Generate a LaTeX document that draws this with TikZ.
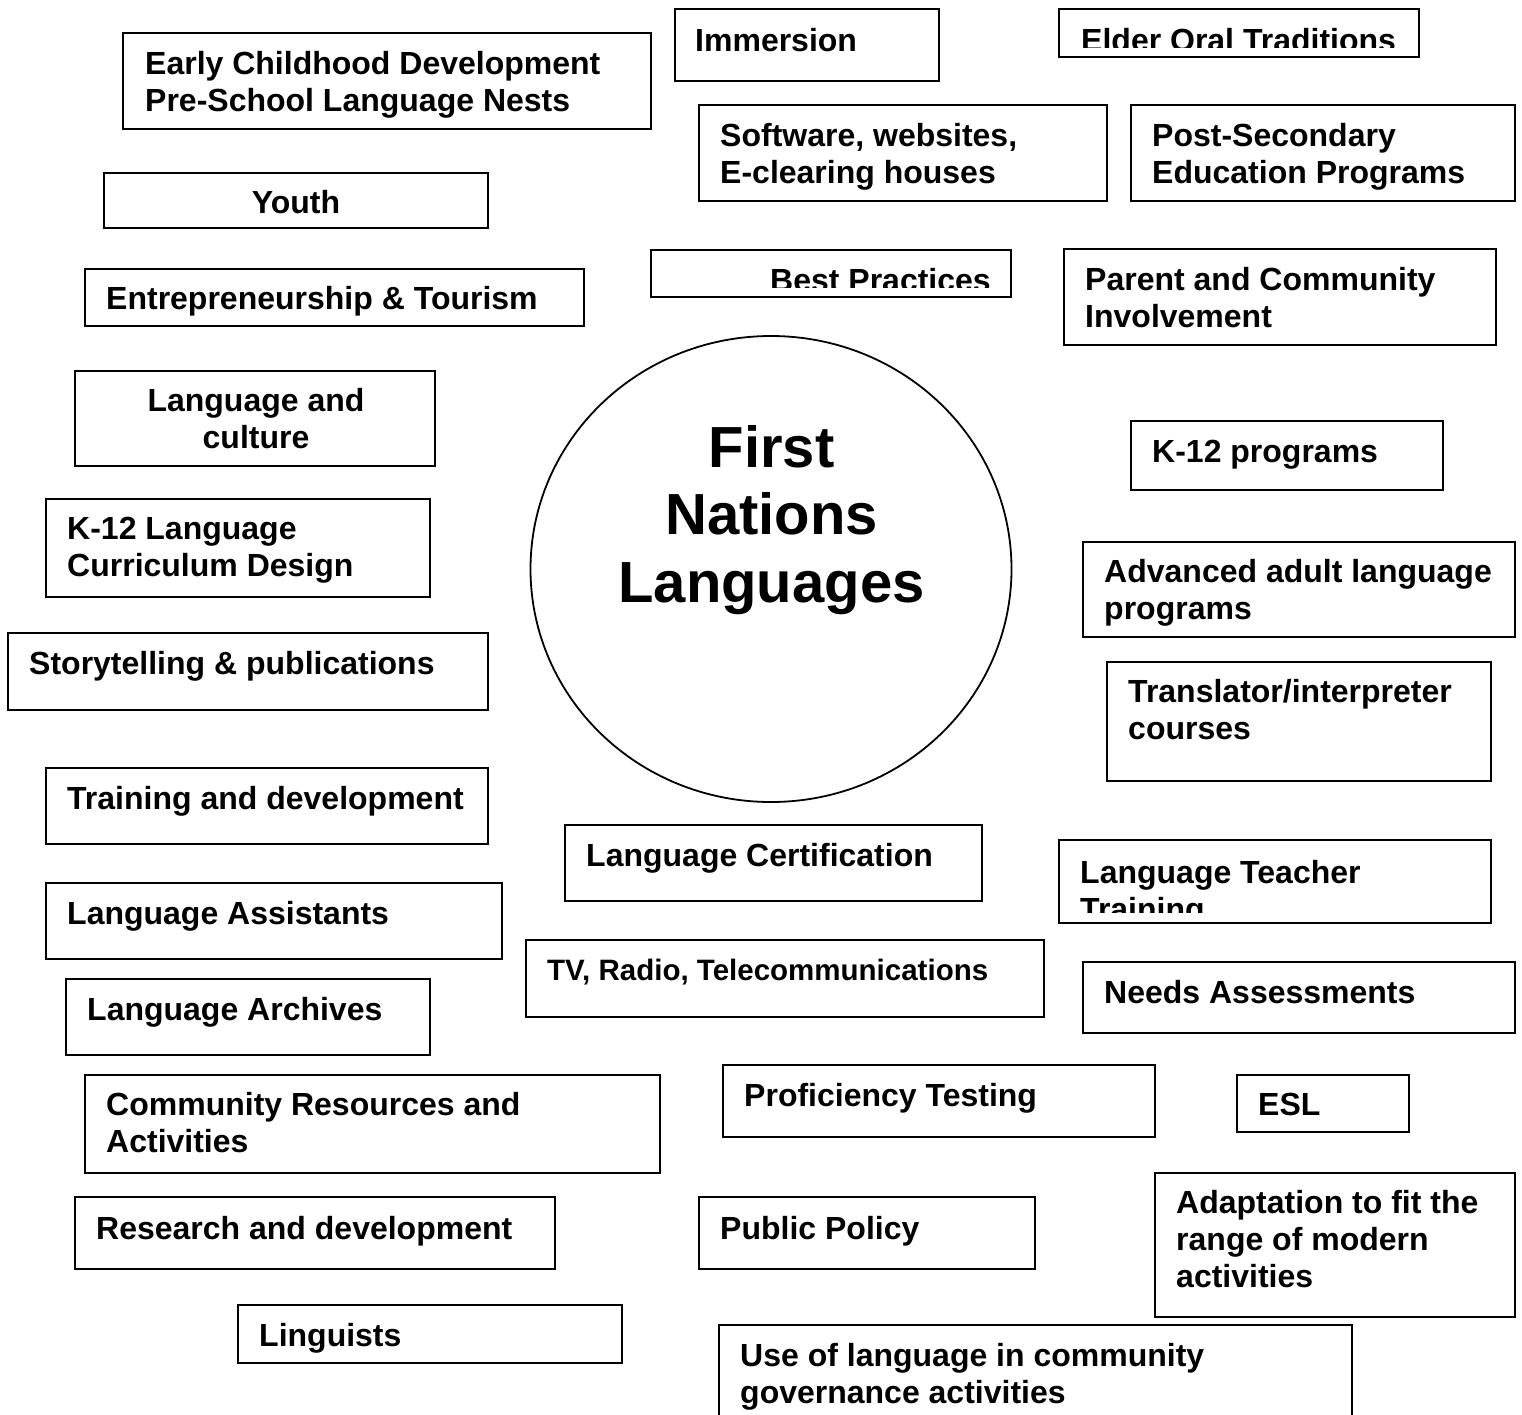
\documentclass[tikz,border=0pt]{standalone}
\usepackage{fontspec}
\setmainfont{Liberation Sans}
\usetikzlibrary{shapes.geometric}
\tikzset{
  bx/.style={draw, line width=2.6pt, inner sep=0pt, outer sep=0pt, anchor=north west},
  lbl/.style={inner sep=0pt, anchor=north west, align=left, font=\bfseries\fontsize{32}{37}\selectfont},
  lblc/.style={inner sep=0pt, anchor=north, align=center, font=\bfseries\fontsize{32}{37}\selectfont},
  lbls/.style={inner sep=0pt, anchor=north west, align=left, font=\bfseries\fontsize{29.5}{34}\selectfont},
  hub/.style={draw, ellipse, line width=1.8pt, inner sep=0pt},
  hubtxt/.style={inner sep=0pt, anchor=north, align=center, font=\bfseries\fontsize{58}{67.5}\selectfont},
}
% box: name, x1, y1, x2, y2
\newcommand\Bx[5]{\node[bx, minimum width={(#4-#2)*1pt}, minimum height={(#5-#3)*1pt}] (#1) at (#2,#3) {};}
% left text: name, x, first baseline, text
\newcommand\Tx[4]{\node[lbl] (#1) at (#2,#3-25) {\rule{0pt}{25pt}#4};}
\newcommand\Tc[4]{\node[lblc] (#1) at (#2,#3-25) {\rule{0pt}{25pt}#4};}
\begin{document}
\begin{tikzpicture}[x=1pt,y=-1pt]
\useasboundingbox (0,0) rectangle (1522,1414);
\clip (0,0) rectangle (1522,1414);
\fill[white] (0,0) rectangle (1522,1414);

% central circle
\node[hub, minimum width=481pt, minimum height=466pt] (hubc) at (771,569) {};
\node[hubtxt] (hubt) at (771.5,467-46) {\rule{0pt}{46pt}First\\Nations\\Languages};

% left column
\Bx{b01}{123}{33}{651}{129}
\Tx{t01}{145}{74}{Early Childhood Development\\Pre-School Language Nests}
\Bx{b06}{104}{173}{488}{228}
\Tc{t06}{296}{213}{Youth}
\Bx{b07}{85}{269}{584}{326}
\Tx{t07}{106}{309}{Entrepreneurship \& Tourism}
\Bx{b10}{75}{371}{435}{466}
\Tc{t10}{256}{411}{Language and\\culture}
\Bx{b12}{46}{499}{430}{597}
\Tx{t12}{67}{539}{K-12 Language\\Curriculum Design}
\Bx{b14}{8}{633}{488}{710}
\Tx{t14}{29}{674}{Storytelling \& publications}
\Bx{b16}{46}{768}{488}{844}
\Tx{t16}{67}{809}{Training and development}
\Bx{b19}{46}{883}{502}{959}
\Tx{t19}{67}{924}{Language Assistants}
\Bx{b22}{66}{979}{430}{1055}
\Tx{t22}{87}{1020}{Language Archives}
\Bx{b23}{85}{1075}{660}{1173}
\Tx{t23}{106}{1115}{Community Resources and\\Activities}
\Bx{b26}{75}{1197}{555}{1269}
\Tx{t26}{96}{1239}{Research and development}
\Bx{b29}{238}{1305}{622}{1363}
\Tx{t29}{259}{1346}{Linguists}

% middle column
\Bx{b02}{675}{9}{939}{81}
\Tx{t02}{695}{51}{Immersion}
\Bx{b04}{699}{105}{1107}{201}
\Tx{t04}{720}{146}{Software, websites,\\E-clearing houses}
\Bx{b08}{651}{250}{1011}{297}
\begin{scope}
  \clip (651,250) rectangle (1011,287);
  \Tx{t08}{770}{291}{Best Practices}
\end{scope}
\Bx{b17}{565}{825}{982}{901}
\Tx{t17}{586}{866}{Language Certification}
\Bx{b20}{526}{940}{1044}{1017}
\node[lbls] (t20) at (547,980-23) {\rule{0pt}{23pt}TV, Radio, Telecommunications};
\Bx{b24}{723}{1065}{1155}{1137}
\Tx{t24}{744}{1106}{Proficiency Testing}
\Bx{b27}{699}{1197}{1035}{1269}
\Tx{t27}{720}{1239}{Public Policy}
\Bx{b30}{719}{1325}{1352}{1440}
\Tx{t30}{740}{1366}{Use of language in community\\governance activities}

% right column
\Bx{b03}{1059}{9}{1419}{57}
\begin{scope}
  \clip (1059,9) rectangle (1419,47);
  \Tx{t03}{1081}{51}{Elder Oral Traditions}
\end{scope}
\Bx{b05}{1131}{105}{1515}{201}
\Tx{t05}{1152}{146}{Post-Secondary\\Education Programs}
\Bx{b09}{1064}{249}{1496}{345}
\Tx{t09}{1085}{290}{Parent and Community\\Involvement}
\Bx{b11}{1131}{421}{1443}{490}
\Tx{t11}{1152}{462}{K-12 programs}
\Bx{b13}{1083}{542}{1515}{637}
\Tx{t13}{1104}{582}{Advanced adult language\\programs}
\Bx{b15}{1107}{662}{1491}{781}
\Tx{t15}{1128}{702}{Translator/interpreter\\courses}
\Bx{b18}{1059}{840}{1491}{923}
\begin{scope}
  \clip (1059,840) rectangle (1491,912);
  \Tx{t18}{1080}{883}{Language Teacher\\Training}
\end{scope}
\Bx{b21}{1083}{962}{1515}{1033}
\Tx{t21}{1104}{1003}{Needs Assessments}
\Bx{b25}{1237}{1075}{1409}{1132}
\Tx{t25}{1258}{1115}{ESL}
\Bx{b28}{1155}{1173}{1515}{1317}
\Tx{t28}{1176}{1213}{Adaptation to fit the\\range of modern\\activities}
\end{tikzpicture}
\end{document}
